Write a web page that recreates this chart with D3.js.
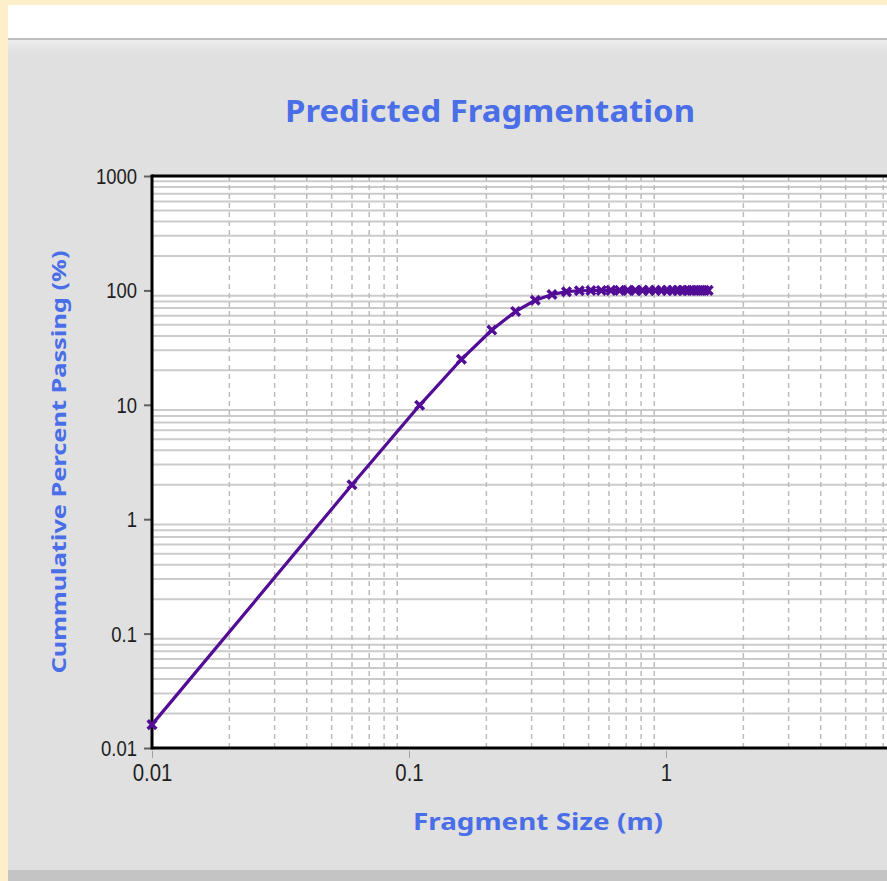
<!DOCTYPE html>
<html>
<head>
<meta charset="utf-8">
<script src="https://cdn.jsdelivr.net/npm/d3@7"></script>
<style>
  html, body { margin: 0; padding: 0; background: #fcefca; overflow: hidden; }
  svg { display: block; }
</style>
</head>
<body>
<svg id="chart" width="887" height="881"></svg>
<script>
// fragment size (m)
var sizes = [0.01, 0.06, 0.11, 0.16, 0.21, 0.26, 0.31, 0.36, 0.41, 0.46,
             0.51, 0.56, 0.61, 0.66, 0.71, 0.76, 0.81, 0.86, 0.91, 0.96,
             1.01, 1.06, 1.11, 1.16, 1.21, 1.26, 1.31, 1.36, 1.41, 1.46];
// cumulative percent passing
var passing = [0.016, 2.0, 9.9, 25, 45, 65.5, 82, 92, 97.4, 99.3,
               99.85, 99.97, 100, 100, 100, 100, 100, 100, 100, 100,
               100, 100, 100, 100, 100, 100, 100, 100, 100, 100];
var xTickLabels = ["0.01", "0.1", "1"];
var yTickLabels = ["0.01", "0.1", "1", "10", "100", "1000"];

var titleText = "Predicted Fragmentation";
var xLabelText = "Fragment Size (m)";
var yLabelText = "Cummulative Percent Passing (%)";

var svg = d3.select("#chart");

// window frame
svg.append("rect").attr("x", 0).attr("y", 0).attr("width", 887).attr("height", 881).attr("fill", "#fcefca");
svg.append("rect").attr("x", 8).attr("y", 5).attr("width", 879).attr("height", 35).attr("fill", "#ffffff");
svg.append("rect").attr("x", 8).attr("y", 38).attr("width", 879).attr("height", 2).attr("fill", "#bdbdbd");
var grad = svg.append("defs").append("linearGradient").attr("id", "topg").attr("x1", 0).attr("y1", 0).attr("x2", 0).attr("y2", 1);
grad.append("stop").attr("offset", 0).attr("stop-color", "#ececec");
grad.append("stop").attr("offset", 1).attr("stop-color", "#e0e0e0");
svg.append("rect").attr("x", 8).attr("y", 40).attr("width", 879).attr("height", 830).attr("fill", "#e0e0e0");
svg.append("rect").attr("x", 8).attr("y", 40).attr("width", 879).attr("height", 14).attr("fill", "url(#topg)");
svg.append("rect").attr("x", 8).attr("y", 870).attr("width", 879).attr("height", 11).attr("fill", "#c4c4c4");

var plotLeft = 152, plotTop = 176, plotBottom = 748;
var x = d3.scaleLog().domain([0.01, 10]).range([plotLeft, plotLeft + 3 * 257]);
var y = d3.scaleLog().domain([0.01, 1000]).range([plotBottom, plotTop]);

// plot area
svg.append("rect").attr("x", plotLeft).attr("y", plotTop).attr("width", 887 - plotLeft).attr("height", plotBottom - plotTop).attr("fill", "#ffffff");

var minorX = x.ticks().filter(d => Math.abs(Math.log10(d) - Math.round(Math.log10(d))) > 1e-6);
var minorY = y.ticks().filter(d => Math.abs(Math.log10(d) - Math.round(Math.log10(d))) > 1e-6);

svg.append("g").selectAll("line").data(minorY).enter().append("line")
    .attr("x1", plotLeft).attr("x2", 887)
    .attr("y1", d => y(d)).attr("y2", d => y(d))
    .attr("stroke", "#cbcbcb").attr("stroke-width", 2);

svg.append("g").selectAll("line").data(minorX).enter().append("line")
    .attr("x1", d => x(d)).attr("x2", d => x(d))
    .attr("y1", plotTop).attr("y2", plotBottom)
    .attr("stroke", "#bcbcbc").attr("stroke-width", 1.5)
    .attr("stroke-dasharray", "5,4");

// axes
var xAxis = d3.axisBottom(x).tickValues([0.01, 0.1, 1]).tickFormat((d, i) => xTickLabels[i]).tickSize(10).tickPadding(6);
var gx = svg.append("g").attr("transform", "translate(0," + plotBottom + ")").call(xAxis);
gx.select(".domain").remove();
gx.selectAll(".tick line").attr("stroke", "#a0a0a0").attr("stroke-width", 1).attr("y1", 3);
gx.selectAll(".tick text").attr("fill", "#1e1e1e").style("font-family", "Liberation Sans, Arial, sans-serif").style("font-size", "24px")
    .attr("y", 0).attr("dy", "0.71em").attr("transform", "translate(0,16) scale(0.85,1)");

var yAxis = d3.axisLeft(y).tickValues([0.01, 0.1, 1, 10, 100, 1000]).tickFormat((d, i) => yTickLabels[i]).tickSize(8).tickPadding(6);
var gy = svg.append("g").attr("transform", "translate(" + plotLeft + ",0)").call(yAxis);
gy.select(".domain").remove();
gy.selectAll(".tick line").attr("stroke", "#606060").attr("stroke-width", 2);
gy.selectAll(".tick text").attr("fill", "#1e1e1e").style("font-family", "Liberation Sans, Arial, sans-serif").style("font-size", "22px")
    .attr("x", 0).attr("dy", "0.34em").attr("transform", "translate(-15,0) scale(0.84,1)");

// border
svg.append("line").attr("x1", plotLeft).attr("x2", 887).attr("y1", plotTop).attr("y2", plotTop).attr("stroke", "#000").attr("stroke-width", 3);
svg.append("line").attr("x1", plotLeft).attr("x2", 887).attr("y1", plotBottom).attr("y2", plotBottom).attr("stroke", "#000").attr("stroke-width", 3);
svg.append("line").attr("x1", plotLeft).attr("x2", plotLeft).attr("y1", plotTop - 1.5).attr("y2", plotBottom + 1.5).attr("stroke", "#000").attr("stroke-width", 3);

// series
var pts = sizes.map((s, i) => [s, passing[i]]);
var line = d3.line().x(d => x(d[0])).y(d => y(d[1]));
svg.append("path").datum(pts).attr("d", line)
    .attr("fill", "none").attr("stroke", "#520c96").attr("stroke-width", 3.2);

var cross = d3.symbol().type(d3.symbolTimes).size(50);
svg.append("g").selectAll("path").data(pts).enter().append("path")
    .attr("d", cross)
    .attr("transform", d => "translate(" + x(d[0]) + "," + y(d[1]) + ")")
    .attr("fill", "none").attr("stroke", "#520c96").attr("stroke-width", 3.5);

// titles
svg.append("text").attr("x", 490).attr("y", 122).attr("text-anchor", "middle")
    .attr("textLength", 410).attr("lengthAdjust", "spacingAndGlyphs")
    .style("font-family", "Noto Sans, sans-serif").style("font-weight", "bold").style("font-size", "31px")
    .attr("fill", "#4a6ee8").text(titleText);

svg.append("text").attr("x", 538).attr("y", 830).attr("text-anchor", "middle")
    .attr("textLength", 250).attr("lengthAdjust", "spacingAndGlyphs")
    .style("font-family", "Noto Sans, sans-serif").style("font-weight", "bold").style("font-size", "24px")
    .attr("fill", "#4a6ee8").text(xLabelText);

svg.append("text").attr("transform", "translate(66,462) rotate(-90)").attr("text-anchor", "middle")
    .attr("textLength", 423).attr("lengthAdjust", "spacingAndGlyphs")
    .style("font-family", "Noto Sans, sans-serif").style("font-weight", "bold").style("font-size", "20px")
    .attr("fill", "#4a6ee8").text(yLabelText);
</script>
</body>
</html>
